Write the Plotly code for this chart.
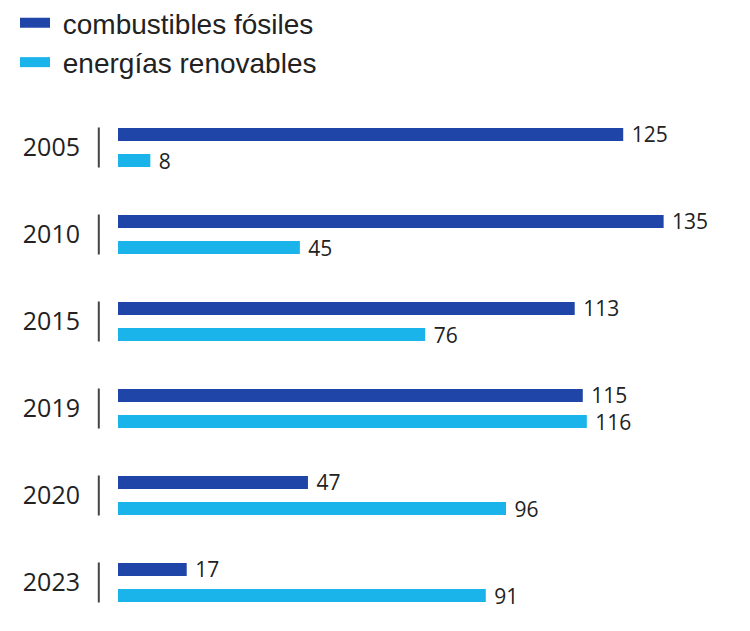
import plotly.graph_objects as go

years = ['2005', '2010', '2015', '2019', '2020', '2023']
fosiles = [125, 135, 113, 115, 47, 17]
renovables = [8, 45, 76, 116, 96, 91]

DARK = '#1f45a8'
LIGHT = '#1ab4ea'
TEXT = '#222222'
VAL_FONT = dict(family='Open Sans, sans-serif', size=21, color=TEXT)
YEAR_FONT = dict(family='Open Sans, sans-serif', size=25, color=TEXT)

fig = go.Figure()

fig.add_trace(go.Bar(
    y=years, x=fosiles, orientation='h', name='combustibles fósiles',
    marker=dict(color=DARK, line=dict(width=0)),
    texttemplate='\u00a0%{x}', textposition='outside', cliponaxis=False,
    constraintext='none', textfont=VAL_FONT, showlegend=False
))
fig.add_trace(go.Bar(
    y=years, x=renovables, orientation='h', name='energías renovables',
    marker=dict(color=LIGHT, line=dict(width=0)),
    texttemplate='\u00a0%{x}', textposition='outside', cliponaxis=False,
    constraintext='none', textfont=VAL_FONT, showlegend=False
))

# legend entries drawn as thick line swatches (wide rectangles like the original)
for name, color in [('combustibles fósiles', DARK), ('energías renovables', LIGHT)]:
    fig.add_trace(go.Scatter(
        x=[None], y=[None], mode='lines', name='\u00a0' + name,
        line=dict(color=color, width=11)
    ))

# small vertical separators between year labels and bars
for i in range(len(years)):
    fig.add_shape(
        type='line', xref='paper', yref='y',
        x0=-0.033, x1=-0.033, y0=i - 0.23, y1=i + 0.23,
        line=dict(color='#444444', width=2)
    )

fig.update_layout(
    width=750, height=631,
    barmode='group',
    bargap=0.4,
    bargroupgap=0.5,
    plot_bgcolor='white',
    paper_bgcolor='white',
    margin=dict(l=110, r=58, t=96, b=13, autoexpand=False),
    showlegend=True,
    legend=dict(
        x=-0.177, y=1.203, xanchor='left', yanchor='top',
        orientation='v',
        font=dict(family='Liberation Sans, Arial, sans-serif', size=28, color=TEXT),
        tracegroupgap=0, itemwidth=30,
        bgcolor='rgba(0,0,0,0)'
    ),
    xaxis=dict(
        range=[0, 144], visible=False, showgrid=False, zeroline=False
    ),
    yaxis=dict(
        autorange='reversed', showgrid=False, zeroline=False,
        showline=False, ticks='',
        tickfont=YEAR_FONT, ticklabelstandoff=37
    )
)

fig.write_html('out.html')
